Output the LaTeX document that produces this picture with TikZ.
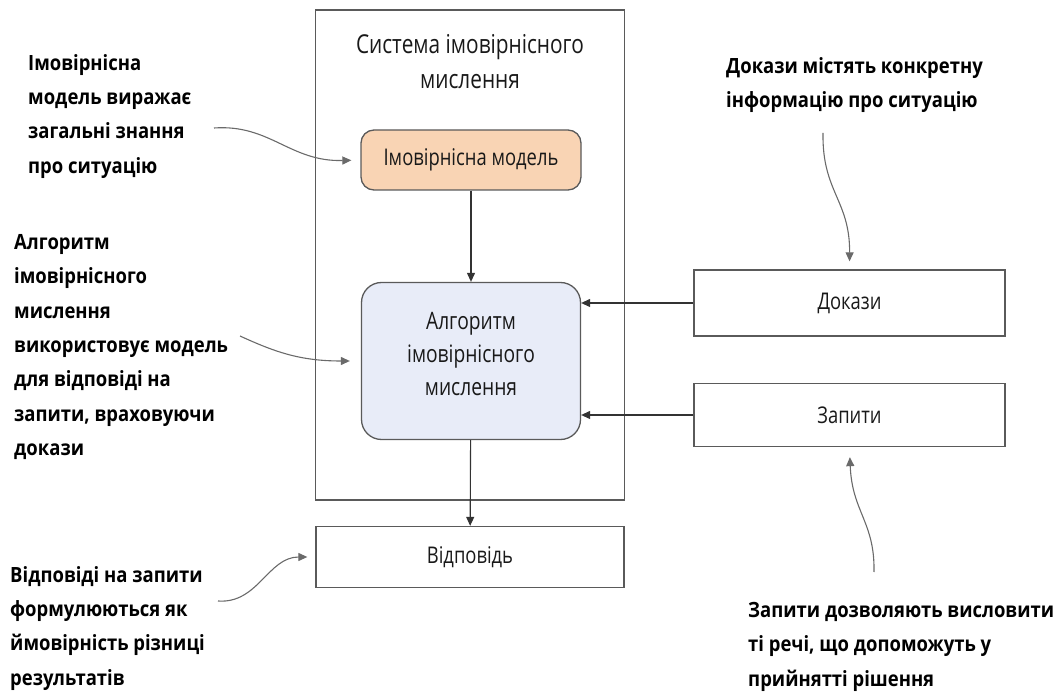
\documentclass[tikz,border=0pt]{standalone}
\usepackage{fontspec}
\setmainfont{Open Sans}
\newfontfamily\annfont[FakeStretch=0.88]{Open Sans}
\newfontfamily\boxfont[FakeStretch=0.80]{Open Sans}
\usetikzlibrary{arrows.meta}
\definecolor{peach}{HTML}{F9D4B4}
\definecolor{paleblue}{HTML}{E8ECF8}
\definecolor{edge}{HTML}{5A5A5A}
\definecolor{curvec}{HTML}{6A6A6A}
\begin{document}
\begin{tikzpicture}[x=1pt,y=-1pt,
  ann/.style={inner sep=0pt, align=left, text=black,
    font=\annfont\bfseries\fontsize{21}{34.4}\selectfont},
  titletxt/.style={inner sep=0pt, align=center, text=black!90,
    font=\boxfont\fontsize{26}{35}\selectfont},
  plainbox/.style={draw=edge, line width=1.3pt, inner sep=0pt, text=black!90,
    font=\boxfont\fontsize{23}{35}\selectfont},
  sysbox/.style={draw=edge, line width=1.3pt, inner sep=0pt},
  modelbox/.style={plainbox, fill=peach, rounded corners=13pt},
  algbox/.style={plainbox, fill=paleblue, rounded corners=20pt, align=center,
    font=\boxfont\fontsize{24}{33}\selectfont},
  arr/.style={draw=black!80, line width=1.1pt, -{Triangle[length=9pt,width=8pt]}},
  curvearr/.style={draw=curvec, line width=1.1pt, -{Triangle[length=9pt,width=8pt]}}
]
\useasboundingbox (0,0) rectangle (1058,692);

% system frame
\node[sysbox, minimum width=309pt, minimum height=490pt] (sys) at (470,255) {};
\node[titletxt] (title) at (470,62) {Система імовірнісного\\мислення};

% inner boxes
\node[modelbox, minimum width=220pt, minimum height=60pt] (model) at (471,160) {Імовірнісна модель};
\node[algbox, minimum width=219pt, minimum height=157pt, text depth=14pt] (alg) at (471,361) {Алгоритм\\імовірнісного\\мислення};
\node[plainbox, minimum width=308pt, minimum height=61pt] (vid) at (470,557) {Відповідь};
\node[plainbox, minimum width=311pt, minimum height=66pt] (dok) at (849.5,303) {Докази};
\node[plainbox, minimum width=311pt, minimum height=63pt] (zap) at (849.5,415) {Запити};

% straight connectors
\draw[arr] (model) -- (alg);
\draw[arr] (alg) -- (vid);
\draw[arr] (dok.west) -- (alg.east |- dok.west);
\draw[arr] (zap.west) -- (alg.east |- zap.west);

% annotations
\node[ann, anchor=north west] (a1) at (28,54) {Імовірнісна\\модель виражає\\загальні знання\\про ситуацію};
\node[ann, anchor=north west] (a2) at (14,234) {Алгоритм\\імовірнісного\\мислення\\використовує модель\\для відповіді на\\запити, враховуючи\\докази};
\node[ann, anchor=north west] (a3) at (10,566) {Відповіді на запити\\формулюються як\\ймовірність різниці\\результатів};
\node[ann, anchor=north west] (a4) at (726,57) {Докази містять конкретну\\інформацію про ситуацію};
\node[ann, anchor=north west] (a5) at (748,602) {Запити дозволяють висловити\\ті речі, що допоможуть у\\прийнятті рішення};

% curve starts
\coordinate (c1) at (214,128);
\coordinate (c2) at (240,336);
\coordinate (c3) at (218,601);
\coordinate (c4) at (823,133);
\coordinate (c5) at (874,572);

\draw[curvearr, shorten >=9pt] (c1) .. controls (270,124) and (290,162) .. (model.west);
\draw[curvearr, shorten >=11pt] (c2) .. controls (275,352) and (300,361) .. (alg.west);
\draw[curvearr, shorten >=8pt] (c3) .. controls (258,604) and (268,557) .. (vid.west);
\draw[curvearr, shorten >=8pt] (c4) .. controls (822,192) and (850,200) .. (dok.north);
\draw[curvearr, shorten >=10pt] (c5) .. controls (875,522) and (852,512) .. (zap.south);
\end{tikzpicture}
\end{document}
